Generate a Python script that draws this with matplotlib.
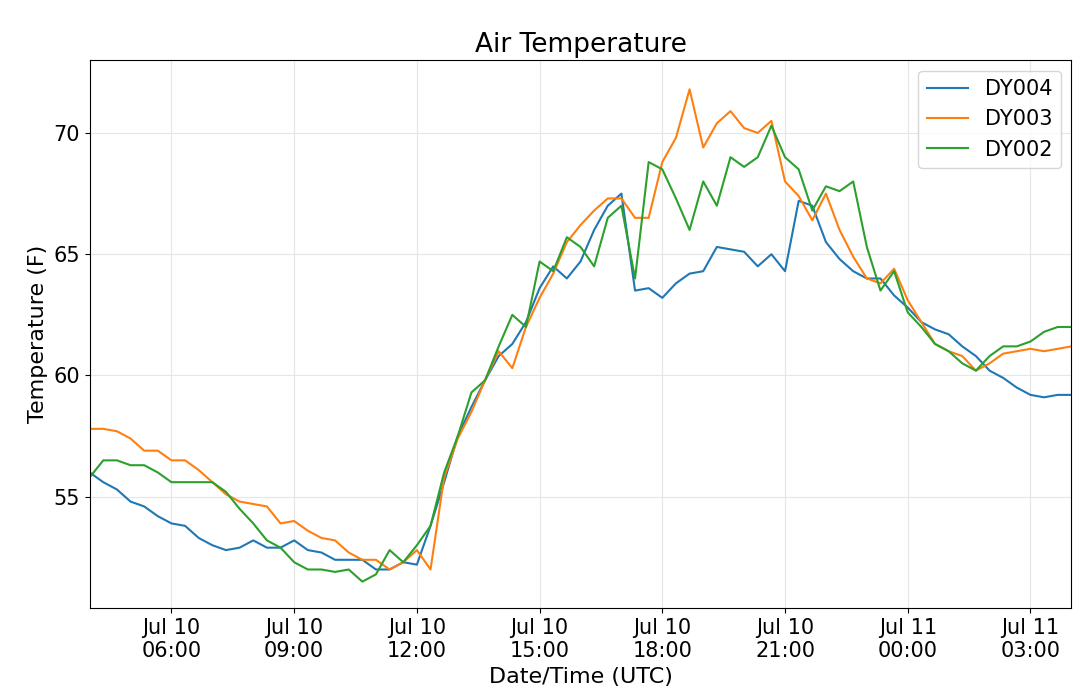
#air temperature, three stations
import pandas as pd
import numpy as np
import matplotlib
matplotlib.use('Agg')
import matplotlib.pyplot as plt
import matplotlib.dates as mdates

start = '2018-07-10 04:00'
dy004 = [56.0, 55.6, 55.3, 54.8, 54.6, 54.2, 53.9, 53.8, 53.3, 53.0, 52.8, 52.9, 53.2, 52.9, 52.9,
         53.2, 52.8, 52.7, 52.4, 52.4, 52.4, 52.0, 52.0, 52.3, 52.2, 53.8, 55.6, 57.5, 58.7, 59.8,
         60.8, 61.3, 62.2, 63.6, 64.5, 64.0, 64.7, 66.0, 67.0, 67.5, 63.5, 63.6, 63.2, 63.8, 64.2,
         64.3, 65.3, 65.2, 65.1, 64.5, 65.0, 64.3, 67.2, 67.0, 65.5, 64.8, 64.3, 64.0, 64.0, 63.3,
         62.8, 62.2, 61.9, 61.7, 61.2, 60.8, 60.2, 59.9, 59.5, 59.2, 59.1, 59.2, 59.2]
dy003 = [57.8, 57.8, 57.7, 57.4, 56.9, 56.9, 56.5, 56.5, 56.1, 55.6, 55.1, 54.8, 54.7, 54.6, 53.9,
         54.0, 53.6, 53.3, 53.2, 52.7, 52.4, 52.4, 52.0, 52.3, 52.8, 52.0, 55.8, 57.4, 58.5, 59.8,
         61.0, 60.3, 62.0, 63.2, 64.2, 65.5, 66.2, 66.8, 67.3, 67.3, 66.5, 66.5, 68.8, 69.8, 71.8,
         69.4, 70.4, 70.9, 70.2, 70.0, 70.5, 68.0, 67.4, 66.4, 67.5, 66.0, 64.9, 64.0, 63.8, 64.4,
         63.1, 62.2, 61.3, 61.0, 60.8, 60.2, 60.5, 60.9, 61.0, 61.1, 61.0, 61.1, 61.2]
dy002 = [55.8, 56.5, 56.5, 56.3, 56.3, 56.0, 55.6, 55.6, 55.6, 55.6, 55.2, 54.5, 53.9, 53.2, 52.9,
         52.3, 52.0, 52.0, 51.9, 52.0, 51.5, 51.8, 52.8, 52.3, 53.0, 53.8, 56.0, 57.5, 59.3, 59.8,
         61.2, 62.5, 62.0, 64.7, 64.3, 65.7, 65.3, 64.5, 66.5, 67.0, 64.0, 68.8, 68.5, 67.3, 66.0,
         68.0, 67.0, 69.0, 68.6, 69.0, 70.3, 69.0, 68.5, 66.8, 67.8, 67.6, 68.0, 65.3, 63.5, 64.3,
         62.6, 62.0, 61.3, 61.0, 60.5, 60.2, 60.8, 61.2, 61.2, 61.4, 61.8, 62.0, 62.0]

t = pd.date_range(start, periods=len(dy004), freq='20min')

fig, ax = plt.subplots(figsize=(10.8, 7), dpi=100)
ax.plot(t, dy004, color='tab:blue', label='DY004')
ax.plot(t, dy003, color='tab:orange', label='DY003')
ax.plot(t, dy002, color='tab:green', label='DY002')

ax.set_xlim(t[0], t[-1])
ax.set_ylim(50.4, 73.0)
ax.set_yticks([55, 60, 65, 70])
ax.xaxis.set_major_locator(mdates.HourLocator(byhour=[0, 3, 6, 9, 12, 15, 18, 21]))
ax.xaxis.set_major_formatter(mdates.DateFormatter('%b %d\n%H:%M'))
ax.grid(color='#e6e6e6')
ax.tick_params(labelsize=15)
ax.set_title('Air Temperature', fontsize=19)
ax.set_xlabel('Date/Time (UTC)', fontsize=16)
ax.set_ylabel('Temperature (F)', fontsize=16)
ax.legend(fontsize=15, loc='upper right')
plt.subplots_adjust(left=0.083, right=0.992, top=0.914, bottom=0.131)
plt.savefig('out.png')
